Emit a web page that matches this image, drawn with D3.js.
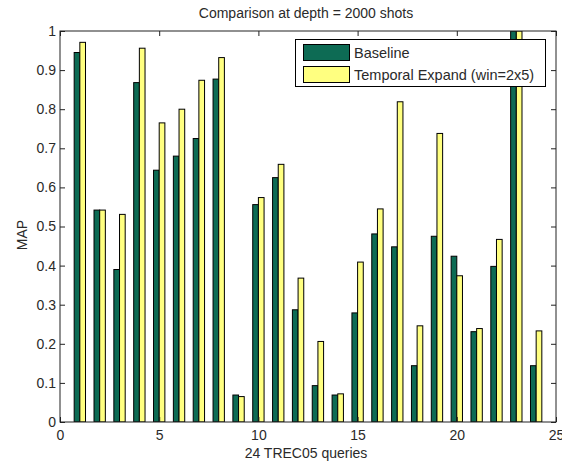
<!DOCTYPE html>
<html>
<head>
<meta charset="utf-8">
<script src="https://cdn.jsdelivr.net/npm/d3@7"></script>
<style>
  html, body { margin: 0; padding: 0; background: #ffffff; }
  svg { display: block; }
  text { font-family: "Liberation Sans", Arial, sans-serif; fill: #2a2a2a; }
</style>
</head>
<body>
<script>
// Query numbers along the x axis
const queries = [1, 2, 3, 4, 5, 6, 7, 8, 9, 10, 11, 12, 13, 14, 15, 16, 17, 18, 19, 20, 21, 22, 23, 24];
// Mean average precision per query
const baseline = [0.945, 0.542, 0.390, 0.868, 0.644, 0.680, 0.725, 0.877, 0.069, 0.556, 0.625, 0.287,
                  0.093, 0.069, 0.279, 0.481, 0.448, 0.144, 0.475, 0.424, 0.231, 0.398, 1.0, 0.144];
const temporal = [0.971, 0.542, 0.531, 0.956, 0.765, 0.800, 0.874, 0.932, 0.065, 0.574, 0.659, 0.368,
                  0.206, 0.072, 0.409, 0.545, 0.819, 0.246, 0.738, 0.374, 0.239, 0.467, 1.0, 0.233];
const seriesNames = ["Baseline", "Temporal Expand (win=2x5)"];
const xTicks = [0, 5, 10, 15, 20, 25];
const yTicks = [0, 0.1, 0.2, 0.3, 0.4, 0.5, 0.6, 0.7, 0.8, 0.9, 1];

const W = 562, H = 464;
const mLeft = 60, mRight = 556, mTop = 31, mBottom = 422;
const colors = ["#0d6b54", "#ffff80"];

const svg = d3.select("body").append("svg").attr("width", W).attr("height", H);

const x = d3.scaleLinear().domain([0, 25]).range([mLeft, mRight]);
const y = d3.scaleLinear().domain([0, 1]).range([mBottom, mTop]);

const barW = 0.2857; // width of one bar in x units
const series = [baseline, temporal];

svg.append("defs").append("clipPath").attr("id", "plot")
  .append("rect").attr("x", mLeft).attr("y", mTop).attr("width", mRight - mLeft).attr("height", mBottom - mTop);

const plot = svg.append("g").attr("clip-path", "url(#plot)");
series.forEach((vals, s) => {
  const off = s === 0 ? -barW : 0;
  plot.selectAll(null).data(queries).enter().append("rect")
    .attr("x", d => x(d + off))
    .attr("width", x(barW) - x(0))
    .attr("y", (d, i) => y(vals[i]))
    .attr("height", (d, i) => y(0) - y(vals[i]))
    .attr("fill", colors[s])
    .attr("stroke", "#000")
    .attr("stroke-width", 1);
});

// Axes with inward ticks on all four sides
const tl = 5;
const fs = "14px";
const xb = svg.append("g").attr("transform", `translate(0,${mBottom})`)
  .call(d3.axisBottom(x).tickValues(xTicks).tickSize(-tl).tickPadding(8).tickFormat(d3.format("d")));
const xt = svg.append("g").attr("transform", `translate(0,${mTop})`)
  .call(d3.axisTop(x).tickValues(xTicks).tickSize(-tl).tickFormat(""));
const yl = svg.append("g").attr("transform", `translate(${mLeft},0)`)
  .call(d3.axisLeft(y).tickValues(yTicks).tickSize(-tl).tickPadding(4).tickFormat(d => String(+d.toFixed(1))));
const yr = svg.append("g").attr("transform", `translate(${mRight},0)`)
  .call(d3.axisRight(y).tickValues(yTicks).tickSize(-tl).tickFormat(""));
[xb, xt, yl, yr].forEach(g => {
  g.select(".domain").remove();
  g.selectAll(".tick line").attr("stroke", "#222");
  g.selectAll("text").attr("font-size", fs).attr("fill", "#2a2a2a").attr("font-family", "Liberation Sans, Arial, sans-serif");
});
// Box frame around the plot area
svg.append("rect").attr("x", mLeft).attr("y", mTop).attr("width", mRight - mLeft).attr("height", mBottom - mTop)
  .attr("fill", "none").attr("stroke", "#222").attr("stroke-width", 1);

// Title and axis labels
svg.append("text").attr("x", (mLeft + mRight) / 2 - 2).attr("y", 18).attr("text-anchor", "middle")
  .attr("font-size", "14px").text("Comparison at depth = 2000 shots");
svg.append("text").attr("x", (mLeft + mRight) / 2 - 2).attr("y", 458).attr("text-anchor", "middle")
  .attr("font-size", "14px").text("24 TREC05 queries");
svg.append("text").attr("transform", `translate(27,235) rotate(-90)`).attr("text-anchor", "middle")
  .attr("font-size", "14px").text("MAP");

// Legend
const lg = svg.append("g");
lg.append("rect").attr("x", 295.5).attr("y", 39.5).attr("width", 250).attr("height", 47)
  .attr("fill", "#fff").attr("stroke", "#000");
seriesNames.forEach((name, i) => {
  const yy = 44 + i * 22;
  lg.append("rect").attr("x", 303.5).attr("y", yy + 0.5).attr("width", 46).attr("height", 16)
    .attr("fill", colors[i]).attr("stroke", "#000");
  lg.append("text").attr("x", 354).attr("y", yy + 13.5).attr("font-size", "14.5px").text(name);
});
</script>
</body>
</html>
